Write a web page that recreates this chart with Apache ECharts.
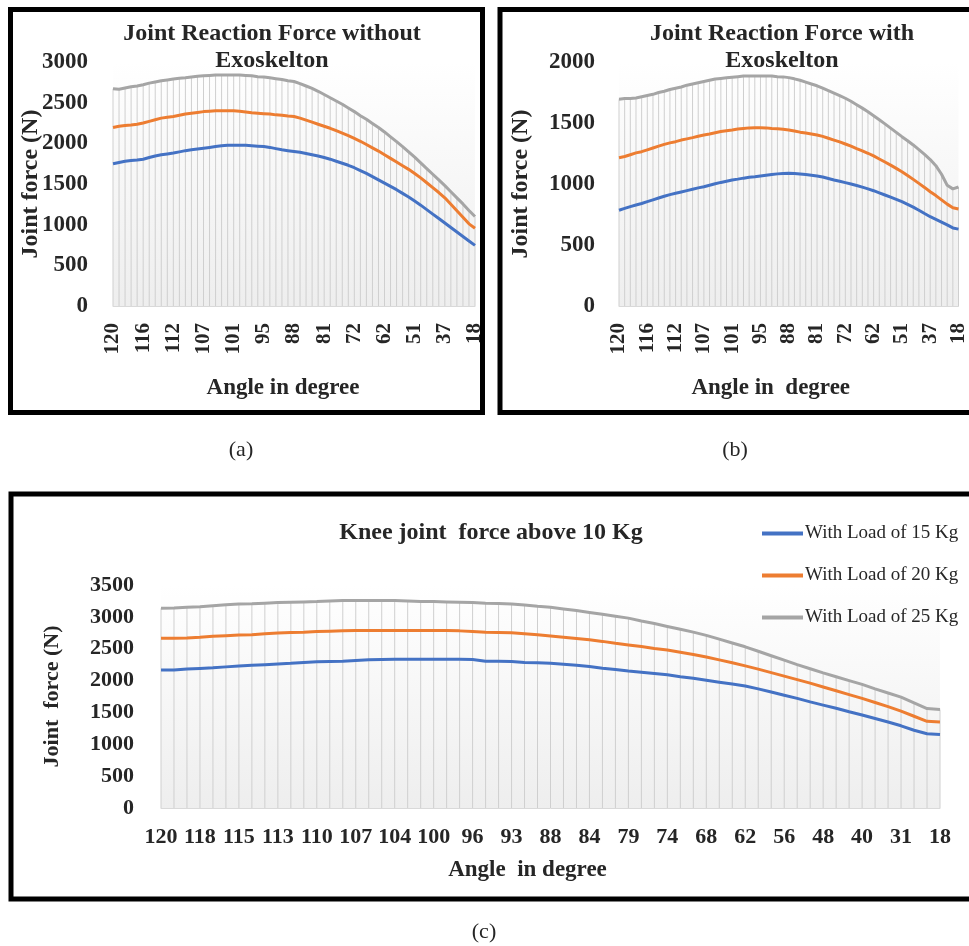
<!DOCTYPE html>
<html>
<head>
<meta charset="utf-8">
<script src="https://cdn.jsdelivr.net/npm/echarts@6/dist/echarts.min.js"></script>
<style>
  html, body { margin: 0; padding: 0; background: #fff; }
  #chart { width: 969px; height: 946px; }
</style>
</head>
<body>
<div id="chart"></div>
<script>
// angle of the knee, same 61 samples in every panel
const angles = [120, 119.3, 118.7, 118, 117, 116, 115, 114.3, 113.7, 113,
  112, 111, 110, 109, 108, 107, 106, 105, 104, 102.5,
  101, 100, 98.7, 97.3, 96, 95, 94, 93, 91.3, 89.7,
  88, 86.7, 85.3, 84, 82.5, 81, 79, 77.3, 75.7, 74,
  72, 70, 68, 66, 64, 62, 60, 58, 56, 53.5,
  51, 48, 45.3, 42.7, 40, 37, 34, 31, 26.7, 22.3, 18];

// (a) without exoskeleton
const noExoBlue = [1750, 1765, 1780, 1790, 1795, 1805, 1825, 1845, 1860, 1870,
  1880, 1895, 1910, 1920, 1930, 1940, 1950, 1960, 1970, 1975,
  1975, 1975, 1975, 1970, 1965, 1960, 1950, 1935, 1920, 1910,
  1900, 1890, 1875, 1860, 1845, 1825, 1805, 1780, 1755, 1730,
  1700, 1665, 1630, 1590, 1550, 1510, 1470, 1430, 1385, 1340,
  1290, 1240, 1185, 1130, 1075, 1020, 965, 910, 855, 800, 745];
const noExoOrange = [2195, 2210, 2220, 2225, 2235, 2250, 2270, 2290, 2310, 2320,
  2330, 2345, 2360, 2370, 2380, 2390, 2395, 2400, 2400, 2400,
  2400, 2395, 2385, 2375, 2370, 2365, 2360, 2350, 2345, 2335,
  2330, 2310, 2285, 2260, 2235, 2210, 2185, 2155, 2125, 2095,
  2060, 2025, 1985, 1945, 1905, 1860, 1815, 1770, 1725, 1680,
  1630, 1575, 1515, 1455, 1395, 1330, 1250, 1170, 1090, 1010, 955];
const noExoGrey = [2670, 2665, 2680, 2695, 2705, 2720, 2740, 2755, 2770, 2780,
  2790, 2800, 2805, 2815, 2825, 2830, 2835, 2840, 2840, 2840,
  2840, 2840, 2835, 2830, 2820, 2815, 2805, 2795, 2785, 2770,
  2760, 2735, 2705, 2675, 2640, 2600, 2560, 2520, 2480, 2435,
  2390, 2340, 2295, 2245, 2195, 2140, 2080, 2020, 1960, 1895,
  1830, 1760, 1690, 1620, 1550, 1480, 1405, 1330, 1255, 1175, 1100];

// (b) with exoskeleton
const exoBlue = [785, 800, 815, 828, 840, 855, 870, 885, 900, 913,
  924, 935, 946, 957, 968, 978, 990, 1002, 1013, 1023,
  1033, 1040, 1048, 1055, 1060, 1066, 1072, 1078, 1083, 1086,
  1088, 1086, 1082, 1077, 1072, 1066, 1057, 1045, 1033, 1022,
  1011, 1000, 988, 974, 960, 945, 928, 910, 892, 874,
  855, 833, 810, 785, 758, 732, 710, 688, 665, 640, 630];
const exoOrange = [1215, 1225, 1240, 1255, 1265, 1280, 1295, 1310, 1325, 1337,
  1347, 1360, 1370, 1380, 1392, 1402, 1410, 1420, 1430, 1437,
  1443, 1450, 1455, 1460, 1462, 1462, 1460, 1455, 1452, 1448,
  1443, 1435, 1425, 1418, 1410, 1402, 1390, 1375, 1360, 1345,
  1328, 1310, 1290, 1272, 1252, 1230, 1205, 1180, 1155, 1128,
  1101, 1070, 1038, 1005, 972, 937, 905, 870, 835, 805, 795];
const exoGrey = [1695, 1700, 1700, 1705, 1715, 1725, 1735, 1750, 1760, 1775,
  1785, 1795, 1810, 1820, 1830, 1840, 1850, 1860, 1865, 1870,
  1875, 1880, 1885, 1885, 1885, 1885, 1885, 1885, 1880, 1878,
  1872, 1862, 1850, 1835, 1820, 1805, 1785, 1765, 1745, 1725,
  1703, 1678, 1650, 1622, 1592, 1560, 1527, 1493, 1458, 1423,
  1388, 1355, 1320, 1282, 1243, 1200, 1150, 1080, 990, 960, 975];

// (c) loads above 10 kg
const load15 = [2165, 2165, 2180, 2190, 2200, 2215, 2230, 2240, 2250, 2260,
  2270, 2285, 2295, 2300, 2305, 2315, 2325, 2330, 2335, 2335,
  2335, 2335, 2335, 2335, 2330, 2305, 2305, 2300, 2285, 2280,
  2270, 2255, 2240, 2220, 2195, 2175, 2150, 2130, 2110, 2090,
  2060, 2035, 2005, 1975, 1945, 1915, 1870, 1820, 1770, 1720,
  1665, 1615, 1565, 1510, 1460, 1405, 1350, 1290, 1220, 1165, 1155];
const load20 = [2665, 2665, 2670, 2680, 2695, 2705, 2715, 2720, 2735, 2745,
  2755, 2760, 2770, 2775, 2780, 2785, 2785, 2785, 2785, 2785,
  2785, 2785, 2785, 2780, 2770, 2760, 2755, 2750, 2735, 2720,
  2700, 2680, 2660, 2640, 2615, 2585, 2560, 2535, 2505, 2480,
  2445, 2410, 2370, 2325, 2280, 2230, 2180, 2125, 2070, 2015,
  1960, 1900, 1840, 1780, 1720, 1655, 1590, 1520, 1440, 1360, 1350];
const load25 = [3135, 3140, 3150, 3160, 3175, 3190, 3200, 3205, 3215, 3225,
  3230, 3235, 3240, 3250, 3255, 3255, 3255, 3255, 3255, 3250,
  3240, 3240, 3235, 3230, 3225, 3215, 3210, 3200, 3185, 3165,
  3150, 3125, 3100, 3070, 3040, 3010, 2980, 2935, 2895, 2850,
  2805, 2760, 2710, 2650, 2590, 2530, 2460, 2390, 2320, 2250,
  2185, 2120, 2060, 2000, 1940, 1870, 1805, 1740, 1650, 1560, 1545];

const loadNames = ['With Load of 15 Kg', 'With Load of 20 Kg', 'With Load of 25 Kg'];

const serif = '"Liberation Serif", "Times New Roman", serif';
const ink = '#262626';
const blue = '#4472C4', orange = '#ED7D31', grey = '#A5A5A5';
const angleLabels = angles.map(String);

const chart = echarts.init(document.getElementById('chart'));

function plotBg() {
  return {
    type: 'linear', x: 0, y: 0, x2: 0, y2: 1,
    colorStops: [{ offset: 0, color: '#ffffff' }, { offset: 1, color: '#eeeeee' }]
  };
}

function xAxisFor(i, opts) {
  return {
    gridIndex: i,
    type: 'category',
    boundaryGap: false,
    data: angleLabels,
    axisLine: { lineStyle: { color: '#d9d9d9', width: 1 } },
    axisTick: { show: false },
    splitLine: { show: false },
    axisLabel: {
      interval: opts.interval, rotate: opts.rotate, margin: opts.margin,
      fontFamily: serif, fontWeight: 'bold', fontSize: opts.fontSize, color: ink
    },
    name: opts.name,
    nameLocation: 'middle',
    nameGap: opts.nameGap,
    nameMoveOverlap: false,
    nameTextStyle: {
      fontFamily: serif, fontWeight: 'bold', fontSize: opts.nameSize, color: ink,
      padding: opts.namePad || 0
    }
  };
}

function yAxisFor(i, max, opts) {
  return {
    gridIndex: i,
    type: 'value',
    min: 0, max: max, interval: 500,
    axisLine: { show: false },
    axisTick: { show: false },
    splitLine: { show: false },
    axisLabel: {
      margin: opts.margin, fontFamily: serif, fontWeight: 'bold',
      fontSize: opts.fontSize, color: ink,
      formatter: (v) => String(v)
    },
    name: opts.name,
    nameLocation: 'middle',
    nameRotate: 90,
    nameGap: opts.nameGap,
    nameMoveOverlap: false,
    nameTextStyle: { fontFamily: serif, fontWeight: 'bold', fontSize: opts.nameSize, color: ink }
  };
}

function panelSeries(i, names, b, o, g) {
  const line = (name, data, color) => ({
    name: name, type: 'line', xAxisIndex: i, yAxisIndex: i,
    data: data, symbol: 'none', smooth: false, z: 3,
    lineStyle: { width: 3, color: color }, itemStyle: { color: color }
  });
  return [
    // drop lines from the top curve down to the axis
    { type: 'bar', xAxisIndex: i, yAxisIndex: i, data: g, barWidth: 1, silent: true, z: 1,
      itemStyle: { color: '#cfcfcf' } },
    line(names[0], b, blue),
    line(names[1], o, orange),
    line(names[2], g, grey)
  ];
}

function label(text, x, y, size, weight, lh) {
  return {
    type: 'text', x: x, y: y, z: 10,
    style: {
      text: text, align: 'center', verticalAlign: 'middle',
      fontFamily: serif, fontWeight: weight, fontSize: size, lineHeight: lh || size,
      fill: ink
    }
  };
}

function frame(x, y, w, h) {
  return {
    type: 'rect', z: 10,
    shape: { x: x, y: y, width: w, height: h },
    style: { fill: 'none', stroke: '#000', lineWidth: 5 }
  };
}

chart.setOption({
  backgroundColor: '#fff',
  animation: false,
  grid: [
    { left: 113, top: 62, width: 362, height: 244, show: true, borderWidth: 0, backgroundColor: plotBg() },
    { left: 619, top: 62, width: 345, height: 244, show: true, borderWidth: 0, backgroundColor: plotBg() },
    { left: 161, top: 585, width: 779, height: 223, show: true, borderWidth: 0, backgroundColor: plotBg() }
  ],
  xAxis: [
    xAxisFor(0, { interval: 4, rotate: 90, margin: 17, fontSize: 21, name: 'Angle in degree',
      nameGap: 71, nameSize: 23, namePad: [0, 22, 0, 0] }),
    xAxisFor(1, { interval: 4, rotate: 90, margin: 17, fontSize: 21, name: 'Angle in  degree',
      nameGap: 71, nameSize: 23, namePad: [0, 36, 0, 0] }),
    xAxisFor(2, { interval: 2, rotate: 0, margin: 18, fontSize: 22, name: 'Angle  in degree',
      nameGap: 51, nameSize: 23, namePad: [0, 46, 0, 0] })
  ],
  yAxis: [
    yAxisFor(0, 3000, { margin: 25, fontSize: 23, name: 'Joint force (N)', nameGap: 70, nameSize: 24 }),
    yAxisFor(1, 2000, { margin: 24, fontSize: 23, name: 'Joint force (N)', nameGap: 86, nameSize: 24 }),
    yAxisFor(2, 3500, { margin: 27, fontSize: 22, name: 'Joint  force (N)', nameGap: 98, nameSize: 22 })
  ],
  legend: {
    data: loadNames,
    orient: 'vertical',
    left: 757, top: 519,
    icon: 'rect',
    itemWidth: 41, itemHeight: 4, itemGap: 23,
    textStyle: { fontFamily: serif, fontSize: 19, color: ink, padding: [0, 0, 0, -3] }
  },
  series: [
    ...panelSeries(0, ['a15', 'a20', 'a25'], noExoBlue, noExoOrange, noExoGrey),
    ...panelSeries(1, ['b15', 'b20', 'b25'], exoBlue, exoOrange, exoGrey),
    ...panelSeries(2, loadNames, load15, load20, load25)
  ],
  graphic: {
    elements: [
      frame(10.5, 9.5, 472, 403),
      frame(500, 9.5, 480, 403),
      frame(11, 494, 970, 405),
      label('Joint Reaction Force without\nExoskelton', 272, 47, 24, 'bold', 27),
      label('Joint Reaction Force with\nExoskelton', 782, 47, 24, 'bold', 27),
      label('Knee joint  force above 10 Kg', 491, 533, 24, 'bold'),
      label('(a)', 241, 450, 22, 'normal'),
      label('(b)', 735, 450, 22, 'normal'),
      label('(c)', 484, 932, 22, 'normal')
    ]
  }
});
</script>
</body>
</html>
